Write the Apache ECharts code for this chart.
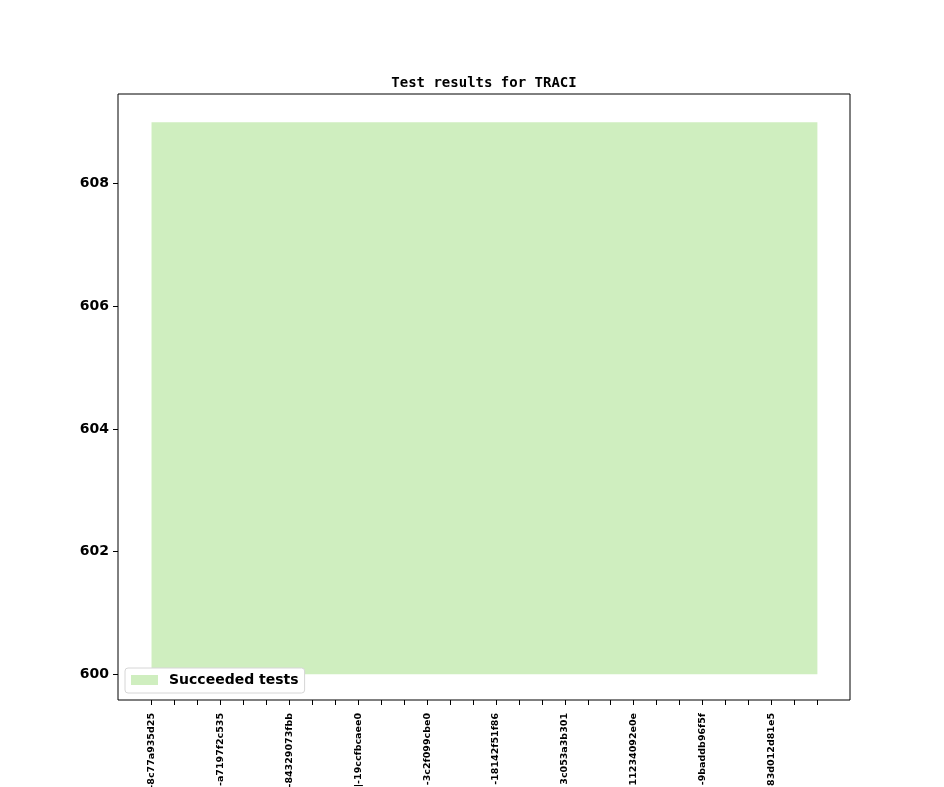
<!DOCTYPE html>
<html><head><meta charset="utf-8">
<script src="https://cdn.jsdelivr.net/npm/echarts@6/dist/echarts.min.js"></script>
<style>html,body{margin:0;padding:0;background:#fff}#c{width:944px;height:787px}</style>
</head><body><div id="c"></div>
<script>
const xPositions = [0,1,2,3,4,5,6,7,8,9,10,11,12,13,14,15,16,17,18,19,20,21,22,23,24,25,26,27,28,29];
const succeeded = [609,609,609,609,609,609,609,609,609,609,609,609,609,609,609,609,609,609,609,609,609,609,609,609,609,609,609,609,609,609];
const baseline = 600;
const labelPositions = [0,3,6,9,12,15,18,21,24,27];
const tickLabels = ['-8c77a935d25','-a7197f2c535','-84329073fbb','|-19ccfbcaee0','-3c2f099cbe0','-18142f51f86','3c053a3b301','11234092e0e','-9baddb96f5f','83d012d81e5'];
const yTicks = [600,602,604,606,608];

const chart = echarts.init(document.getElementById('c'));
chart.setOption({
  animation: false,
  title: {
    text: 'Test results for TRACI', left: 479, top: 71, textAlign: 'center',
    textStyle: {fontFamily: 'DejaVu Sans Mono', fontWeight: 'bold', fontSize: 14, color: '#000'}
  },
  grid: {left: 118, right: 94, top: 94, bottom: 87, show: true, borderColor: '#000', borderWidth: 1,
    backgroundColor: 'transparent', containLabel: false, outerBoundsMode: 'none'},
  legend: {
    left: 125, top: 668, icon: 'rect', itemWidth: 27, itemHeight: 10, itemGap: 8,
    padding: [5, 6, 6, 6], borderColor: '#d6d6d6', borderWidth: 1, borderRadius: 3, backgroundColor: '#fff',
    textStyle: {fontFamily: 'DejaVu Sans', fontWeight: 'bold', fontSize: 14, color: '#000', padding: [0, 0, 0, 6]}
  },
  xAxis: {
    type: 'value', min: -1.46, max: 30.42,
    splitLine: {show: false}, axisLine: {show: false, onZero: false},
    axisTick: {show: true, length: 5, lineStyle: {color: '#000'}, customValues: xPositions},
    axisLabel: {
      rotate: 90, fontFamily: 'DejaVu Sans', fontWeight: 'bold', fontSize: 9.5, color: '#000', margin: 13,
      customValues: labelPositions,
      formatter: v => { const i = labelPositions.indexOf(Math.round(v)); return i >= 0 ? tickLabels[i] : ''; }
    }
  },
  yAxis: {
    type: 'value', min: 599.58, max: 609.46, scale: true,
    splitLine: {show: false}, axisLine: {show: false, onZero: false},
    axisTick: {show: true, length: 5, lineStyle: {color: '#000'}, customValues: yTicks},
    axisLabel: {fontFamily: 'DejaVu Sans', fontWeight: 'bold', fontSize: 14, color: '#000', margin: 9, customValues: yTicks}
  },
  series: [{
    name: 'Succeeded tests', type: 'line', showSymbol: false,
    data: xPositions.map((x, i) => [x, succeeded[i]]),
    lineStyle: {width: 0},
    itemStyle: {color: '#cfeebf'},
    areaStyle: {color: '#cfeebf', opacity: 1, origin: baseline}
  }]
});
</script></body></html>
